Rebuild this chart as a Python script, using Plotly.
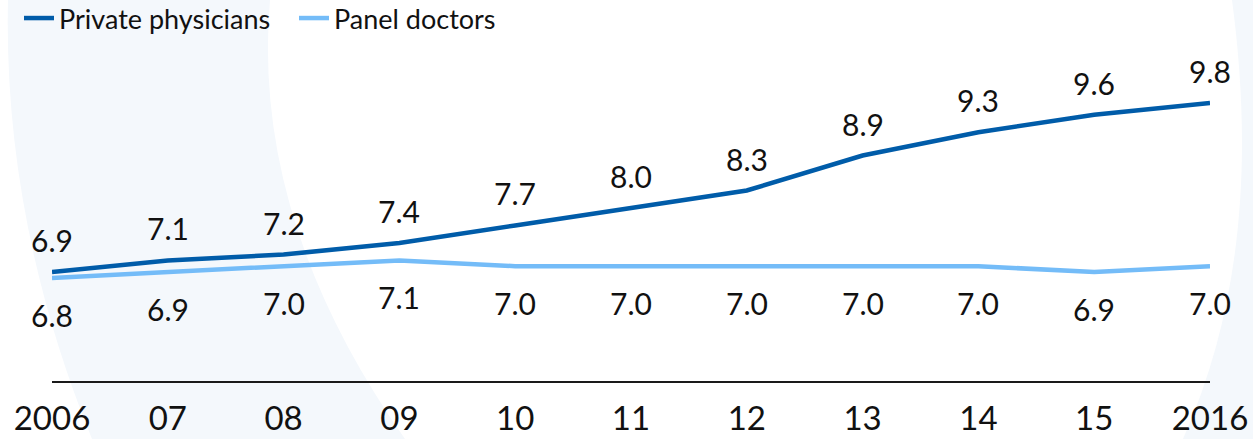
import plotly.graph_objects as go

years = [2006, 2007, 2008, 2009, 2010, 2011, 2012, 2013, 2014, 2015, 2016]
tick_text = ["2006", "07", "08", "09", "10", "11", "12", "13", "14", "15", "2016"]
private_physicians = [6.9, 7.1, 7.2, 7.4, 7.7, 8.0, 8.3, 8.9, 9.3, 9.6, 9.8]
panel_doctors = [6.8, 6.9, 7.0, 7.1, 7.0, 7.0, 7.0, 7.0, 7.0, 6.9, 7.0]

W, H = 1253, 439
ML, MR, MT, MB = 52, 43, 60, 58
PW, PH = W - ML - MR, H - MT - MB

DARK = "#005CA9"
LIGHT = "#74BCF8"
BG = "#F4F8FC"
FONT = "Lato, 'Open Sans', sans-serif"


def px(x, y):
    return (x - ML) / PW, (H - MB - y) / PH


def path(cmds):
    out = []
    for c in cmds:
        if isinstance(c, str):
            out.append(c)
        else:
            xx, yy = px(*c)
            out.append(f"{xx:.5f},{yy:.5f}")
    return " ".join(out)


left_band = path(["M", (8, 0), "Q", (3, 220), (92, 439), "L", (405, 439),
                  "Q", (251, 220), (270, 0), "Z"])
right_band = path(["M", (1232, 0), "C", (1252, 150), (1245, 300), (1183, 439),
                   "L", (1253, 439), "L", (1253, 0), "Z"])

fig = go.Figure()
fig.add_trace(go.Scatter(x=years, y=private_physicians, mode="lines",
                         name="Private physicians",
                         line=dict(color=DARK, width=4.5)))
fig.add_trace(go.Scatter(x=years, y=panel_doctors, mode="lines",
                         name="Panel doctors",
                         line=dict(color=LIGHT, width=4.5)))

annotations = []
for x, v in zip(years, private_physicians):
    annotations.append(dict(x=x, y=v, xref="x", yref="y", text=f"{v:.1f}",
                            showarrow=False, yshift=32,
                            font=dict(family=FONT, size=30, color="#111111")))
for x, v in zip(years, panel_doctors):
    annotations.append(dict(x=x, y=v, xref="x", yref="y", text=f"{v:.1f}",
                            showarrow=False, yshift=-37,
                            font=dict(family=FONT, size=30, color="#111111")))

shapes = [
    dict(type="path", xref="paper", yref="paper", path=left_band,
         fillcolor=BG, line=dict(width=0), layer="below"),
    dict(type="path", xref="paper", yref="paper", path=right_band,
         fillcolor=BG, line=dict(width=0), layer="below"),
]

fig.update_layout(
    width=W, height=H,
    margin=dict(l=ML, r=MR, t=MT, b=MB, autoexpand=False),
    paper_bgcolor="white",
    plot_bgcolor="rgba(0,0,0,0)",
    font=dict(family=FONT, color="#111111"),
    showlegend=True,
    legend=dict(orientation="h", x=px(19, 0)[0], xanchor="left",
                y=px(0, -6)[1], yanchor="top",
                entrywidth=230, entrywidthmode="pixels",
                font=dict(family=FONT, size=27, color="#111111"),
                bgcolor="rgba(0,0,0,0)", itemclick=False),
    xaxis=dict(range=[2006, 2016], tickvals=years, ticktext=tick_text,
               showgrid=False, zeroline=False, showline=True,
               linecolor="#1a1a1a", linewidth=1.5, ticks="",
               ticklabelstandoff=8,
               tickfont=dict(family=FONT, size=33, color="#111111"),
               fixedrange=True),
    yaxis=dict(range=[5.03, 10.54], visible=False, showgrid=False,
               zeroline=False, fixedrange=True),
    annotations=annotations,
    shapes=shapes,
)

fig.write_html("out.html")
